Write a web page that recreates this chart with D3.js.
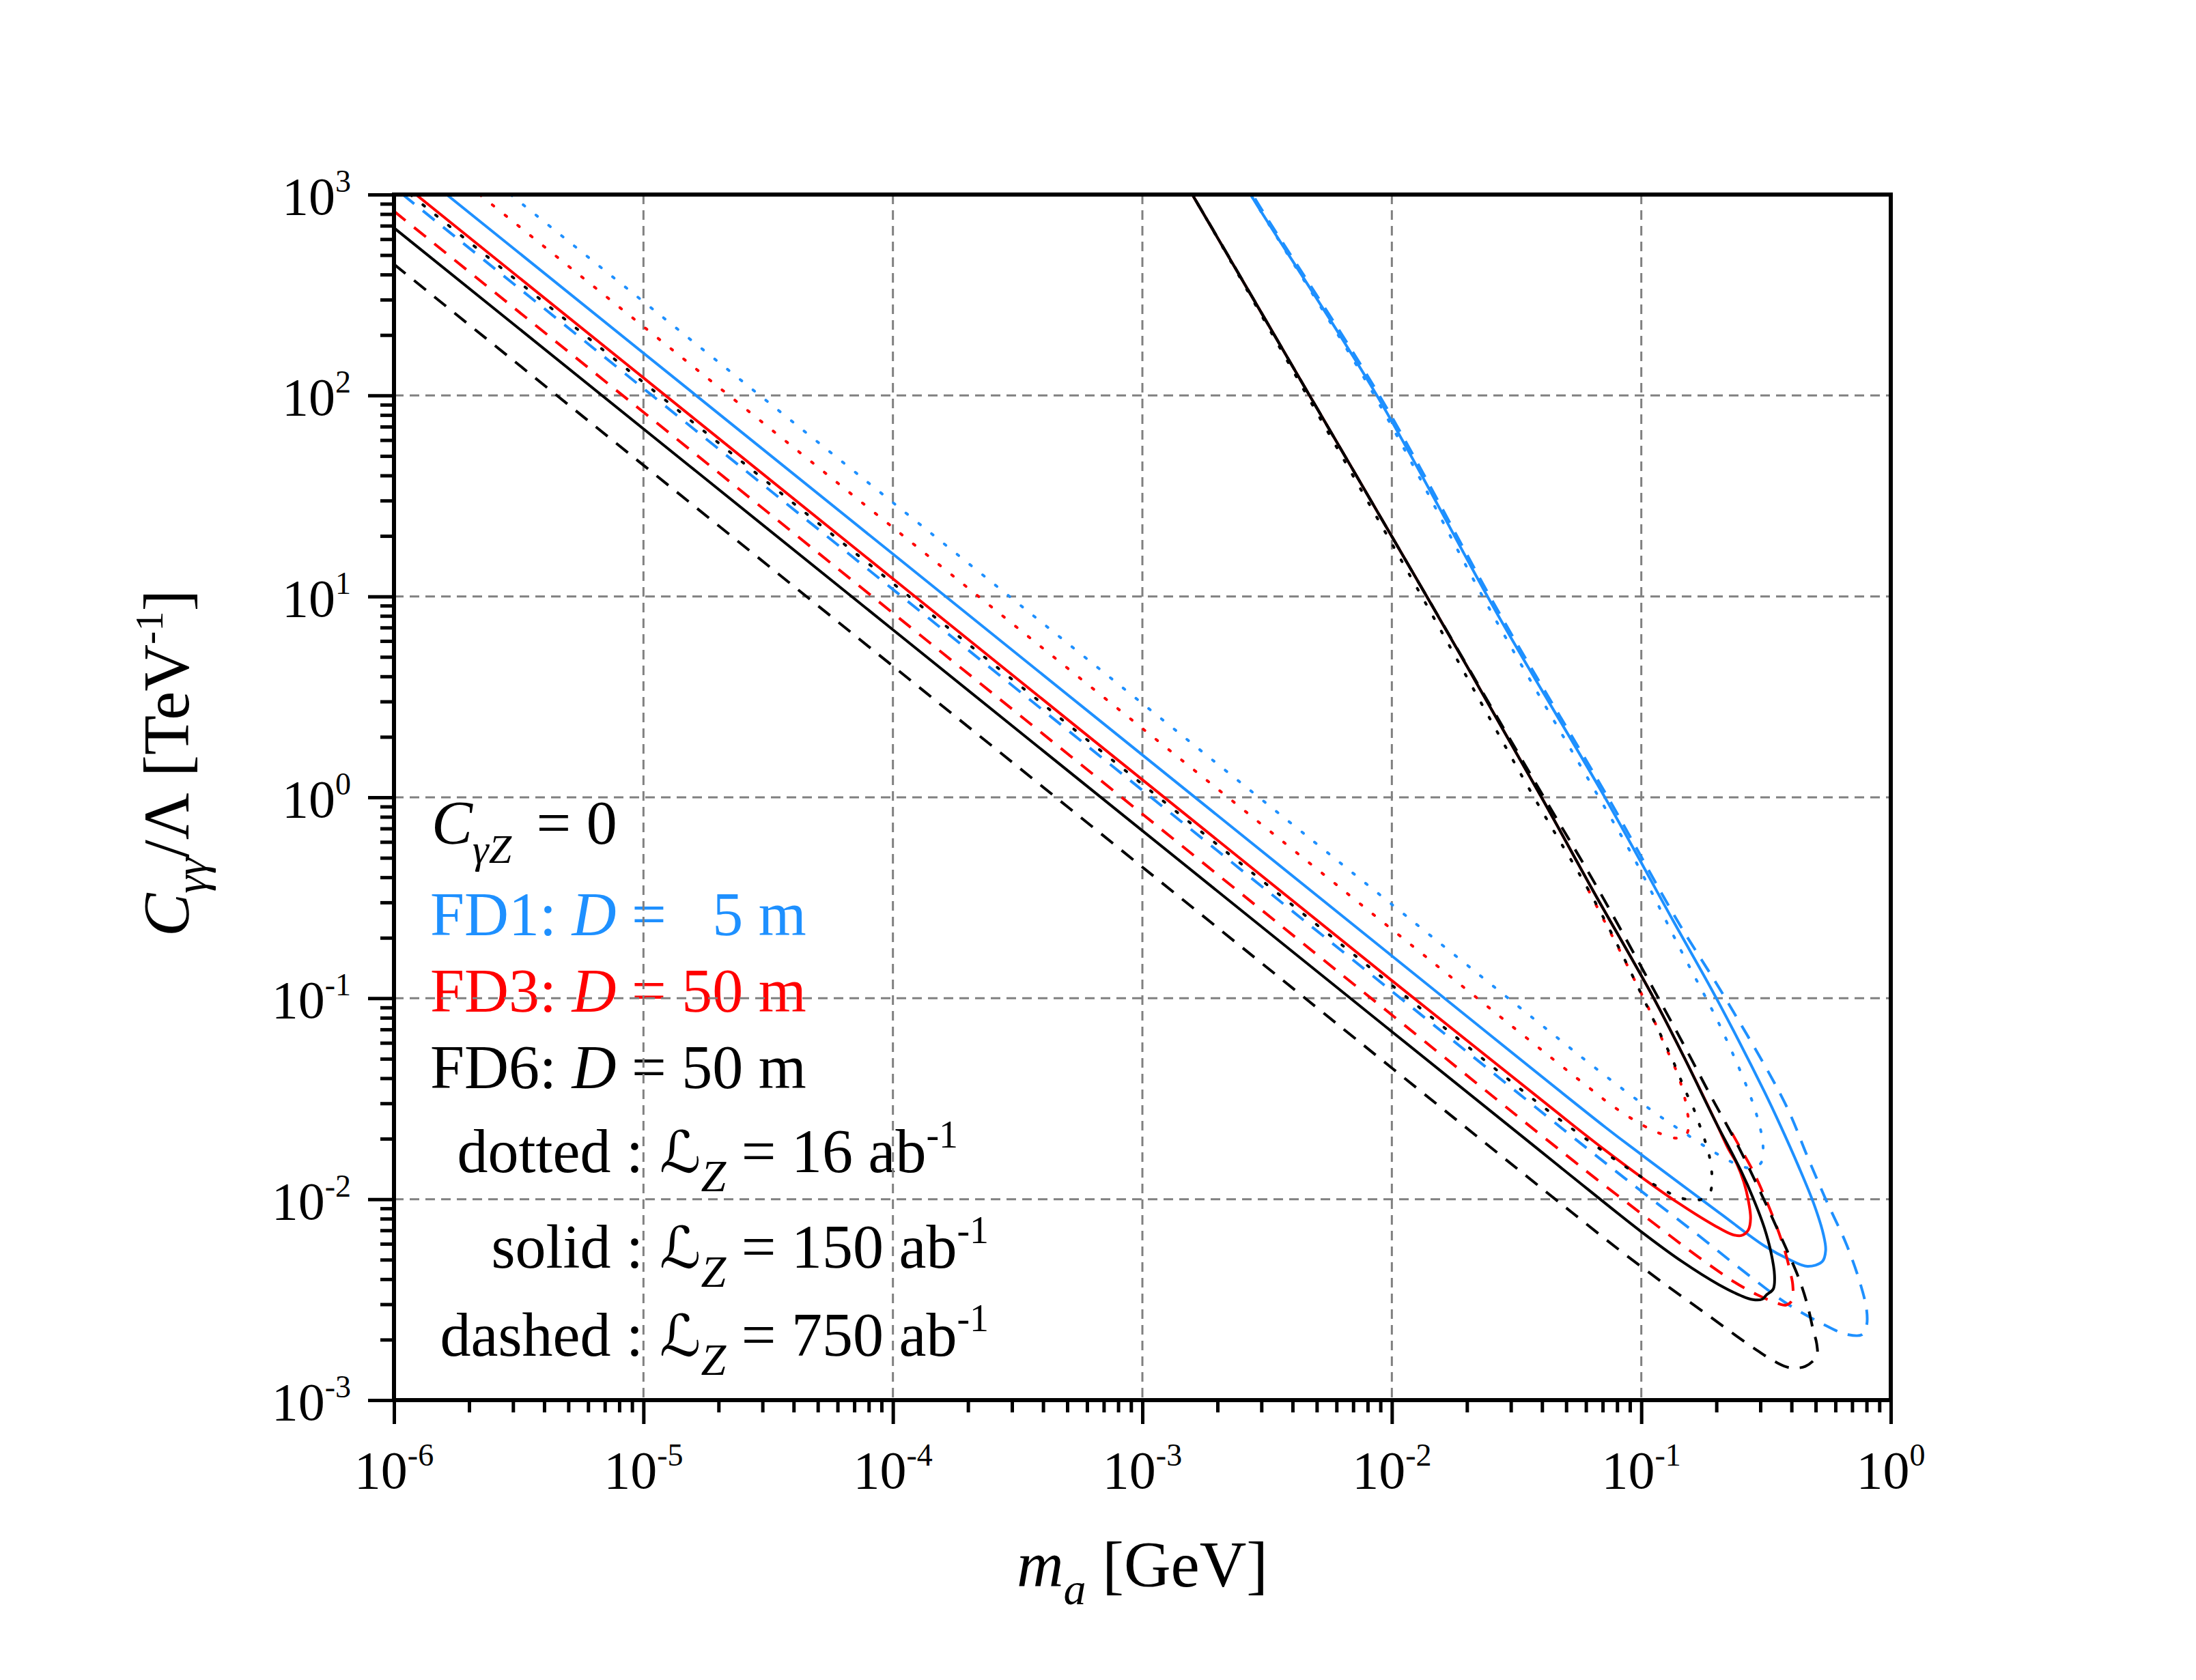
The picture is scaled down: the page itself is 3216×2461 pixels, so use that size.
<!DOCTYPE html>
<html>
<head>
<meta charset="utf-8">
<script src="https://cdn.jsdelivr.net/npm/d3@7"></script>
<style>
  body { margin: 0; background: #fff; }
  text { font-family: "Liberation Serif", "Times New Roman", serif; fill: #000; }
</style>
</head>
<body>
<svg id="chart"></svg>
<script>
// DATA: points as [log10 m_a (GeV), log10 C/Lambda (TeV^-1)]
// each contour runs lower branch -> tip -> upper branch

const xTickExp = [-6, -5, -4, -3, -2, -1, 0];
const yTickExp = [-3, -2, -1, 0, 1, 2, 3];

// FD1, D = 5 m
const fd1Dotted = [[-5.533, 3], [-4, 1.467], [-2, -0.533], [-1.379, -1.154], [-1.214, -1.318],
  [-1.05, -1.475], [-0.936, -1.578], [-0.822, -1.674], [-0.708, -1.766], [-0.62, -1.825], [-0.56, -1.845],
  [-0.521, -1.821], [-0.512, -1.736], [-0.544, -1.555], [-0.672, -1.17], [-0.836, -0.774], [-1.027, -0.309],
  [-1.17, 0], [-1.596, 0.91], [-2.07, 2.0], [-2.566, 3], [-2.61, 3.1]];
const fd1Solid = [[-5.789, 3], [-4, 1.211], [-2, -0.789], [-1.146, -1.64], [-1.0, -1.778],
  [-0.69, -2.065], [-0.507, -2.232], [-0.407, -2.3], [-0.334, -2.334], [-0.275, -2.311], [-0.261, -2.255],
  [-0.27, -2.176], [-0.307, -2.028], [-0.37, -1.836], [-0.443, -1.632], [-0.507, -1.464], [-0.699, -1.0],
  [-0.872, -0.615], [-1.146, 0], [-1.576, 0.91], [-2.06, 2.0], [-2.566, 3], [-2.61, 3.1]];
const fd1Dashed = [[-5.965, 3], [-4, 1.035], [-2, -0.965], [-1.237, -1.728], [-1.0, -1.96],
  [-0.781, -2.17], [-0.599, -2.35], [-0.416, -2.52], [-0.279, -2.617], [-0.179, -2.672], [-0.115, -2.674],
  [-0.097, -2.629], [-0.097, -2.549], [-0.124, -2.413], [-0.179, -2.221], [-0.261, -2.0], [-0.33, -1.8],
  [-0.425, -1.52], [-0.663, -1.0], [-0.855, -0.615], [-1.134, 0], [-1.566, 0.91], [-2.05, 2.0],
  [-2.558, 3], [-2.6, 3.1]];

// FD3, D = 50 m (upper branches run under the FD6 curves)
const fd3Dotted = [[-5.657, 3], [-4, 1.343], [-2, -0.657], [-1.383, -1.274], [-1.219, -1.436],
  [-1.105, -1.545], [-0.991, -1.634], [-0.927, -1.672], [-0.863, -1.696], [-0.83, -1.695], [-0.81, -1.646],
  [-0.816, -1.561], [-0.831, -1.47], [-0.854, -1.379], [-0.881, -1.3], [-0.909, -1.226], [-0.964, -1.068],
  [-1.027, -0.909], [-1.091, -0.751], [-1.153, -0.604], [-1.219, -0.445]];
const fd3Solid = [[-5.912, 3], [-4, 1.088], [-2, -0.912], [-1.265, -1.64], [-1.146, -1.755],
  [-1.0, -1.89], [-0.854, -2.017], [-0.708, -2.13], [-0.635, -2.176], [-0.599, -2.181], [-0.571, -2.153],
  [-0.562, -2.096], [-0.571, -2.006], [-0.589, -1.915], [-0.617, -1.824], [-0.653, -1.745], [-0.7, -1.62],
  [-0.83, -1.29], [-0.95, -1.0], [-1.2, -0.45], [-1.4, 0], [-1.86, 1.0], [-2.33, 2.0],
  [-2.8, 3.0], [-2.85, 3.1]];
const fd3Dashed = [[-6, 2.917], [-4, 0.917], [-2, -1.083], [-1.392, -1.691], [-1.274, -1.807],
  [-1.182, -1.898], [-1.091, -1.985], [-1.0, -2.072], [-0.909, -2.159], [-0.818, -2.245], [-0.726, -2.328],
  [-0.626, -2.413], [-0.535, -2.476], [-0.45, -2.52], [-0.42, -2.527], [-0.396, -2.504], [-0.393, -2.425],
  [-0.402, -2.368], [-0.425, -2.255], [-0.466, -2.108], [-0.507, -1.983], [-0.553, -1.858],
  [-0.608, -1.734], [-0.66, -1.62]];

// FD6, D = 50 m
const fd6Dotted = [[-5.935, 3], [-4, 1.065], [-2, -0.935], [-1.42, -1.515], [-1.255, -1.67],
  [-1.141, -1.772], [-1.027, -1.868], [-0.909, -1.955], [-0.845, -1.992], [-0.781, -2.006], [-0.74, -1.99],
  [-0.722, -1.96], [-0.717, -1.883], [-0.726, -1.793], [-0.745, -1.708], [-0.767, -1.629], [-0.792, -1.544],
  [-0.822, -1.464], [-0.877, -1.3], [-0.936, -1.147], [-1.027, -0.909], [-1.119, -0.677], [-1.219, -0.445],
  [-1.43, 0], [-1.88, 1.0], [-2.34, 2.0], [-2.8, 3.0], [-2.85, 3.1]];
const fd6Solid = [[-6, 2.834], [-4, 0.834], [-2, -1.166], [-1.42, -1.745], [-1.283, -1.882],
  [-1.0, -2.162], [-0.836, -2.311], [-0.69, -2.425], [-0.599, -2.481], [-0.553, -2.5], [-0.516, -2.498],
  [-0.498, -2.476], [-0.471, -2.447], [-0.466, -2.379], [-0.48, -2.266], [-0.507, -2.142], [-0.55, -2.0],
  [-0.6, -1.86], [-0.7, -1.62], [-0.83, -1.29], [-0.95, -1.0], [-1.2, -0.45], [-1.4, 0], [-1.86, 1.0],
  [-2.33, 2.0], [-2.8, 3.0], [-2.85, 3.1]];
const fd6Dashed = [[-6, 2.653], [-4, 0.653], [-2, -1.347], [-1.383, -1.962], [-1.274, -2.07],
  [-1.091, -2.25], [-0.909, -2.42], [-0.726, -2.583], [-0.626, -2.674], [-0.535, -2.753], [-0.462, -2.81],
  [-0.407, -2.838], [-0.343, -2.832], [-0.297, -2.781], [-0.297, -2.719], [-0.311, -2.651], [-0.334, -2.527],
  [-0.366, -2.402], [-0.412, -2.266], [-0.453, -2.153], [-0.507, -2.006], [-0.608, -1.745], [-0.72, -1.49],
  [-0.827, -1.238], [-0.936, -0.989], [-1.19, -0.42], [-1.39, 0], [-1.86, 1.0], [-2.33, 2.0],
  [-2.8, 3.0], [-2.85, 3.1]];

// SET PARAMETERS //////////////////////////////////////////////////////////////
const W = 3216, H = 2461;
const plot = { left: 577, right: 2769, top: 285, bottom: 2051 };
const blue = '#1e90ff', red = '#ff0000', black = '#000000';
const dash = { dotted: '3,21', solid: null, dashed: '22,16' };
const nb = '\u00a0';

const svg = d3.select('#chart').attr('width', W).attr('height', H);
svg.append('rect').attr('width', W).attr('height', H).attr('fill', '#fff');

const x = d3.scaleLog().domain([1e-6, 1]).range([plot.left, plot.right]);
const y = d3.scaleLog().domain([1e-3, 1e3]).range([plot.bottom, plot.top]);

const curves = [
  { pts: fd1Dotted, color: blue, style: 'dotted' },
  { pts: fd1Solid, color: blue, style: 'solid' },
  { pts: fd1Dashed, color: blue, style: 'dashed' },
  { pts: fd3Dotted, color: red, style: 'dotted' },
  { pts: fd3Solid, color: red, style: 'solid' },
  { pts: fd3Dashed, color: red, style: 'dashed' },
  { pts: fd6Dotted, color: black, style: 'dotted' },
  { pts: fd6Solid, color: black, style: 'solid' },
  { pts: fd6Dashed, color: black, style: 'dashed' }
];

svg.append('clipPath').attr('id', 'plotclip')
  .append('rect')
  .attr('x', plot.left).attr('y', plot.top)
  .attr('width', plot.right - plot.left).attr('height', plot.bottom - plot.top);

// LEGEND TEXT (grid is drawn over it, like the original) ///////////////////////
const legend = svg.append('g').attr('font-size', 90);

const row0 = legend.append('text').attr('x', 632).attr('y', 1236);
row0.append('tspan').attr('font-style', 'italic').text('C');
row0.append('tspan').attr('font-style', 'italic').attr('font-size', 60).attr('dy', 28).text('γZ');
row0.append('tspan').attr('dy', -28).attr('dx', 14).text(nb + '=' + nb + '0');

const fdRows = [
  { label: 'FD1: ', rest: ' =   5 m', color: blue, y: 1370 },
  { label: 'FD3: ', rest: ' = 50 m', color: red, y: 1482 },
  { label: 'FD6: ', rest: ' = 50 m', color: black, y: 1594 }
];
fdRows.forEach(r => {
  const t = legend.append('text').attr('x', 630).attr('y', r.y).style('fill', r.color);
  t.append('tspan').text(r.label.replace(/ /g, nb));
  t.append('tspan').attr('font-style', 'italic').text('D');
  t.append('tspan').text(r.rest.replace(/ /g, nb));
});

const lumiRows = [
  { label: 'dotted :', lumi: '16', y: 1717 },
  { label: 'solid :', lumi: '150', y: 1857 },
  { label: 'dashed :', lumi: '750', y: 1986 }
];
lumiRows.forEach(r => {
  legend.append('text').attr('x', 942).attr('y', r.y).attr('text-anchor', 'end').text(r.label);
  const t = legend.append('text').attr('x', 966).attr('y', r.y);
  t.append('tspan').attr('font-family', 'DejaVu Serif, DejaVu Sans, serif').attr('font-style', 'italic')
    .attr('font-size', 84).text('ℒ');
  t.append('tspan').attr('font-style', 'italic').attr('font-size', 66).attr('dy', 28).text('Z');
  t.append('tspan').attr('dy', -28).text(nb + '=' + nb + r.lumi + nb + 'ab');
  t.append('tspan').attr('font-size', 56).attr('dy', -36).text('-1');
});

// GRID ////////////////////////////////////////////////////////////////////////
const grid = svg.append('g').attr('stroke', '#808080').attr('stroke-width', 3)
  .attr('stroke-dasharray', '14,9');
grid.selectAll('.gx').data(xTickExp.slice(1, -1)).enter().append('line')
  .attr('x1', d => x(10 ** d)).attr('x2', d => x(10 ** d))
  .attr('y1', plot.top).attr('y2', plot.bottom);
grid.selectAll('.gy').data(yTickExp.slice(1, -1)).enter().append('line')
  .attr('y1', d => y(10 ** d)).attr('y2', d => y(10 ** d))
  .attr('x1', plot.left).attr('x2', plot.right);

// CURVES //////////////////////////////////////////////////////////////////////
const line = d3.line()
  .x(d => x(10 ** d[0]))
  .y(d => y(10 ** d[1]))
  .curve(d3.curveCatmullRom.alpha(0.5));

svg.append('g').attr('clip-path', 'url(#plotclip)')
  .selectAll('path').data(curves).enter().append('path')
  .attr('d', d => line(d.pts))
  .attr('fill', 'none')
  .attr('stroke', d => d.color)
  .attr('stroke-width', 4)
  .attr('stroke-linecap', d => d.style === 'dotted' ? 'round' : 'butt')
  .attr('stroke-dasharray', d => dash[d.style]);

// AXES ////////////////////////////////////////////////////////////////////////
const majorX = xTickExp.map(e => 10 ** e);
const majorY = yTickExp.map(e => 10 ** e);
const isMajor = v => Math.abs(Math.log10(v) - Math.round(Math.log10(v))) < 1e-6;

const xAxisMajor = d3.axisBottom(x).tickValues(majorX).tickSize(35).tickSizeOuter(0).tickFormat('');
const xAxisMinor = d3.axisBottom(x).tickValues(x.ticks().filter(v => !isMajor(v)))
  .tickSize(18).tickSizeOuter(0).tickFormat('');
const yAxisMajor = d3.axisLeft(y).tickValues(majorY).tickSize(38).tickSizeOuter(0).tickFormat('');
const yAxisMinor = d3.axisLeft(y).tickValues(y.ticks().filter(v => !isMajor(v)))
  .tickSize(20).tickSizeOuter(0).tickFormat('');

[xAxisMajor, xAxisMinor].forEach(a => {
  svg.append('g').attr('transform', `translate(0,${plot.bottom})`).call(a)
    .call(g => g.select('.domain').remove())
    .selectAll('line').attr('stroke', '#000').attr('stroke-width', 5);
});
[yAxisMajor, yAxisMinor].forEach(a => {
  svg.append('g').attr('transform', `translate(${plot.left},0)`).call(a)
    .call(g => g.select('.domain').remove())
    .selectAll('line').attr('stroke', '#000').attr('stroke-width', 5);
});

// frame
svg.append('rect')
  .attr('x', plot.left).attr('y', plot.top)
  .attr('width', plot.right - plot.left).attr('height', plot.bottom - plot.top)
  .attr('fill', 'none').attr('stroke', '#000').attr('stroke-width', 6);

// tick labels
const tickFont = 78, supFont = 46;
xTickExp.forEach(e => {
  const t = svg.append('text').attr('x', x(10 ** e)).attr('y', 2180)
    .attr('text-anchor', 'middle').attr('font-size', tickFont);
  t.append('tspan').text('10');
  t.append('tspan').attr('font-size', supFont).attr('dy', -33).text(String(e));
});
yTickExp.forEach(e => {
  const t = svg.append('text').attr('x', 514).attr('y', y(10 ** e) + 29)
    .attr('text-anchor', 'end').attr('font-size', tickFont);
  t.append('tspan').text('10');
  t.append('tspan').attr('font-size', supFont).attr('dy', -33).text(String(e));
});

// axis titles
const xTitle = svg.append('text').attr('x', (plot.left + plot.right) / 2).attr('y', 2324)
  .attr('text-anchor', 'middle').attr('font-size', 95);
xTitle.append('tspan').attr('font-style', 'italic').text('m');
xTitle.append('tspan').attr('font-style', 'italic').attr('font-size', 66).attr('dy', 26).text('a');
xTitle.append('tspan').attr('dy', -26).text(nb + '[GeV]');

const yTitle = svg.append('text')
  .attr('transform', 'translate(276,1118) rotate(-90)')
  .attr('text-anchor', 'middle').attr('font-size', 95);
yTitle.append('tspan').attr('font-style', 'italic').text('C');
yTitle.append('tspan').attr('font-style', 'italic').attr('font-size', 66).attr('dy', 26).text('γγ');
yTitle.append('tspan').attr('dy', -26).text('/Λ' + nb + '[TeV');
yTitle.append('tspan').attr('font-size', 58).attr('dy', -38).text('-1');
yTitle.append('tspan').attr('dy', 38).text(']');
</script>
</body>
</html>
